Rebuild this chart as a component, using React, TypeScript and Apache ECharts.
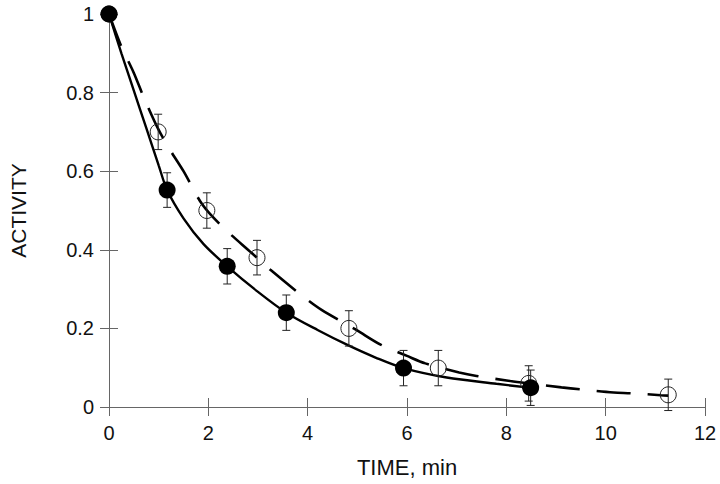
import React, { useEffect, useRef } from "react";
import * as echarts from "echarts";

// Filled circles (measured points)
const filledX = [0, 1.17, 2.38, 3.57, 5.93, 8.49];
const filledY = [1.0, 0.552, 0.358, 0.24, 0.099, 0.049];
const filledErr = [0, 0.044, 0.045, 0.045, 0.045, 0.045];

// Open circles
const openX = [0, 0.99, 1.97, 2.98, 4.83, 6.63, 8.45, 11.26];
const openY = [1.0, 0.70, 0.50, 0.38, 0.20, 0.099, 0.06, 0.031];
const openErr = [0, 0.045, 0.045, 0.044, 0.045, 0.045, 0.045, 0.04];

// Solid fitted curve
const solidX = [0, 0.25, 0.5, 0.75, 1.0, 1.17, 1.5, 1.9, 2.38, 3.0, 3.57, 4.2, 4.8, 5.4, 5.93, 6.8, 7.8, 8.55];
const solidY = [1.0, 0.9, 0.805, 0.71, 0.615, 0.552, 0.48, 0.415, 0.358, 0.293, 0.24, 0.196, 0.158, 0.124, 0.099, 0.075, 0.059, 0.048];

// Dashed fitted curve
const dashX = [0, 0.24, 0.5, 0.71, 1.0, 1.25, 1.5, 1.88, 2.28, 2.88, 3.25, 3.93, 4.28, 4.98, 5.48, 6.0, 6.37, 7.05, 7.4, 8.08, 8.45, 9.11, 9.48, 10.16, 10.51, 11.11, 11.26];
const dashY = [1.0, 0.92, 0.85, 0.785, 0.705, 0.65, 0.6, 0.515, 0.459, 0.391, 0.349, 0.279, 0.247, 0.196, 0.158, 0.13, 0.111, 0.088, 0.079, 0.066, 0.06, 0.05, 0.045, 0.037, 0.035, 0.03, 0.029];

const xTicks = [0, 2, 4, 6, 8, 10, 12];
const yTicks = [0, 0.2, 0.4, 0.6, 0.8, 1];

const FONT = "'Liberation Sans', Arial, sans-serif";

function errRender(params: any, api: any) {
  const x = api.value(0);
  const y = api.value(1);
  const e = api.value(2);
  if (!e) return { type: "group", children: [] };
  const top = api.coord([x, y + e]);
  const bot = api.coord([x, y - e]);
  const cap = 4;
  const style = { stroke: "#222", lineWidth: 1 };
  return {
    type: "group",
    children: [
      { type: "line", shape: { x1: top[0], y1: top[1], x2: bot[0], y2: bot[1] }, style },
      { type: "line", shape: { x1: top[0] - cap, y1: top[1], x2: top[0] + cap, y2: top[1] }, style },
      { type: "line", shape: { x1: bot[0] - cap, y1: bot[1], x2: bot[0] + cap, y2: bot[1] }, style },
    ],
  };
}

export default function App() {
  const ref = useRef<HTMLDivElement>(null);
  useEffect(() => {
    if (!ref.current) return;
    const chart = echarts.init(ref.current, null, { renderer: "svg" });
    const axisLine = { show: true, lineStyle: { color: "#666", width: 1 } };
    const axisTick = { show: true, inside: false, length: 9, lineStyle: { color: "#666", width: 1 } };
    chart.setOption({
      animation: false,
      backgroundColor: "#fff",
      grid: { left: 106, right: 15, top: 14, bottom: 77, show: false },
      xAxis: [
        {
          type: "value",
          min: xTicks[0],
          max: xTicks[xTicks.length - 1],
          interval: 2,
          position: "bottom",
          name: "TIME, min",
          nameLocation: "middle",
          nameGap: 49,
          nameTextStyle: { fontSize: 22, color: "#111", fontFamily: FONT },
          axisLine,
          axisTick,
          splitLine: { show: false },
          axisLabel: { fontSize: 20, color: "#111", fontFamily: FONT, margin: 16 },
        },
        {
          type: "value",
          min: xTicks[0],
          max: xTicks[xTicks.length - 1],
          interval: 2,
          position: "top",
          axisLine,
          axisTick,
          splitLine: { show: false },
          axisLabel: { show: false },
        },
      ],
      yAxis: [
        {
          type: "value",
          min: yTicks[0],
          max: yTicks[yTicks.length - 1],
          interval: 0.2,
          position: "left",
          name: "ACTIVITY",
          nameLocation: "middle",
          nameGap: 80,
          nameTextStyle: { fontSize: 21, color: "#111", fontFamily: FONT },
          axisLine,
          axisTick,
          splitLine: { show: false },
          axisLabel: { fontSize: 20, color: "#111", fontFamily: FONT, margin: 15 },
        },
        {
          type: "value",
          min: yTicks[0],
          max: yTicks[yTicks.length - 1],
          interval: 0.2,
          position: "right",
          axisLine,
          axisTick,
          splitLine: { show: false },
          axisLabel: { show: false },
        },
      ],
      series: [
        {
          type: "line",
          data: dashX.map((x, i) => [x, dashY[i]]),
          smooth: 0.3,
          showSymbol: false,
          symbol: "none",
          lineStyle: { color: "#000", width: 2.6, type: [34, 17] },
          z: 2,
        },
        {
          type: "line",
          data: solidX.map((x, i) => [x, solidY[i]]),
          smooth: 0.3,
          showSymbol: false,
          symbol: "none",
          lineStyle: { color: "#000", width: 2.4 },
          z: 2,
        },
        {
          type: "custom",
          renderItem: errRender,
          data: openX.map((x, i) => [x, openY[i], openErr[i]]),
          encode: { x: 0, y: 1 },
          z: 3,
        },
        {
          type: "scatter",
          data: openX.map((x, i) => [x, openY[i]]),
          symbol: "circle",
          symbolSize: 16,
          itemStyle: { color: "rgba(255,255,255,0)", borderColor: "#222", borderWidth: 1, opacity: 1 },
          z: 4,
        },
        {
          type: "custom",
          renderItem: errRender,
          data: filledX.map((x, i) => [x, filledY[i], filledErr[i]]),
          encode: { x: 0, y: 1 },
          z: 5,
        },
        {
          type: "scatter",
          data: filledX.map((x, i) => [x, filledY[i]]),
          symbol: "circle",
          symbolSize: 17,
          itemStyle: { color: "#000", borderColor: "#000", borderWidth: 0, opacity: 1 },
          z: 6,
        },
      ],
    });
    return () => chart.dispose();
  }, []);
  return (
    <div
      ref={ref}
      style={{ position: "fixed", left: 0, top: 0, width: 720, height: 484, background: "#fff" }}
    />
  );
}
